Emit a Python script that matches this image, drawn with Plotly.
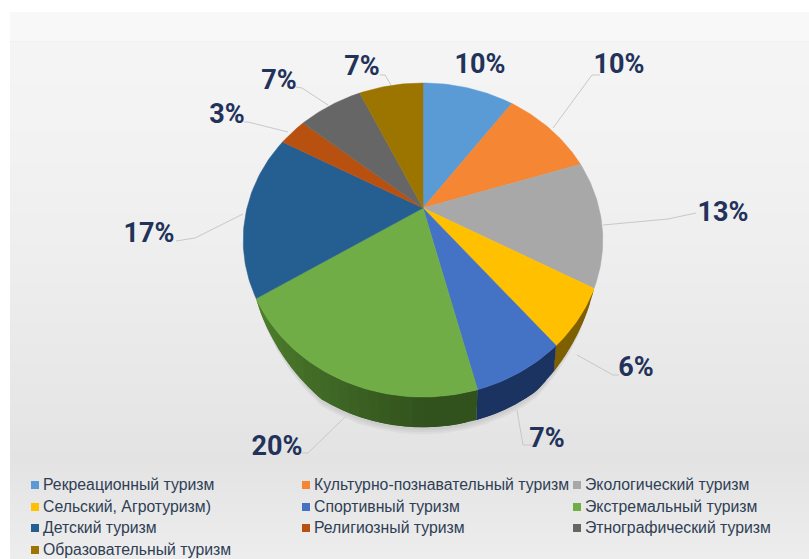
import math
import plotly.graph_objects as go

categories = ["Рекреационный туризм", "Культурно-познавательный туризм", "Экологический туризм",
              "Сельский, Агротуризм)", "Спортивный туризм", "Экстремальный туризм",
              "Детский туризм", "Религиозный туризм", "Этнографический туризм", "Образовательный туризм"]
values = [10, 10, 13, 6, 7, 20, 17, 3, 7, 7]
labels = ["10%", "10%", "13%", "6%", "7%", "20%", "17%", "3%", "7%", "7%"]
colors = ["#5B9BD5", "#F58634", "#A8A8A8", "#FFC000", "#4472C4", "#70AD47", "#255E91", "#B8500F", "#666666", "#9C7400"]
side_colors = [None, None, None, "#7F6000", "#1B3360", "#3A5F22", None, None, None, None]

label_xy = [(480, 66), (619, 66), (723, 214), (636, 369), (547, 440), (277, 448), (149, 235), (227, 116), (279, 82), (362, 68)]
leaders = [None,
           [(553, 128), (592, 75), (600, 75)],
           [(603, 225), (668, 219), (696, 213)],
           [(577, 355), (613, 375), (619, 375)],
           [(517, 410), (523, 445), (532, 445)],
           [(345, 417), (308, 453), (302, 453)],
           [(243, 214), (195, 238), (176, 241)],
           [(288, 132), (248, 122), (244, 122)],
           [(328, 105), (302, 88), (296, 87)],
           [(391, 85), (385, 75), (380, 75)]]

CX, CY, A, B, K = 423, 208, 176, 150.5, 0.204
F, DROP = 0.98, 34


def top(theta):
    u, v = math.sin(theta), math.cos(theta)
    s = 1 / (1 + K * v)
    return CX + A * u * s, CY - B * v * s


def bottom(theta):
    u, v = math.sin(theta), math.cos(theta)
    s = 1 / (1 + K * v)
    return CX + F * A * u * s, CY - (F * B * v * s - DROP)


total = sum(values)
edges = [0]
for val in values:
    edges.append(edges[-1] + val / total * 2 * math.pi)

WALL0, WALL1 = edges[3], edges[6]


def wall(theta, extra=0.0):
    """Lower rim of the wall; it tapers to nothing at the two ends."""
    t = min(1.0, (theta - WALL0) / 0.5, (WALL1 - theta) / 0.5)
    t = max(0.0, t) ** 0.7
    tx, ty = top(theta)
    bx, by = bottom(theta)
    return tx + t * (bx - tx), ty + t * (by - ty) + t * extra


def shade(hex_color, k):
    r, g, b = [int(hex_color[i:i + 2], 16) for i in (1, 3, 5)]
    return f"rgb({min(255, round(r * k))},{min(255, round(g * k))},{min(255, round(b * k))})"


fig = go.Figure()

# panel background
shapes = [dict(type="rect", x0=10, x1=809, y0=12, y1=42, fillcolor="#F8F8F8", line_width=0, layer="below")]
for i in range(52):
    y0 = 43 + i * 10
    if y0 < 455:
        g = round(244 - 17 * ((y0 - 43) / 412) ** 1.5)
    else:
        g = round(227 + 11 * (y0 - 455) / 104)
    shapes.append(dict(type="rect", x0=10, x1=809, y0=y0, y1=y0 + 10,
                       fillcolor=f"rgb({g},{g},{g})", line_width=0, layer="below"))
shapes.append(dict(type="line", x0=10, x1=809, y0=42, y1=42, line=dict(color="#E9E9E9", width=1), layer="below"))

# soft shadow under the wall
for extra in (7, 5, 3):
    n = 80
    rim = [wall(WALL0 + (WALL1 - WALL0) * j / n, extra) for j in range(n + 1)]
    fig.add_trace(go.Scatter(x=[q[0] for q in rim], y=[q[1] for q in rim], mode="lines", fill="toself",
                             fillcolor="rgba(0,0,0,0.035)", line_width=0, showlegend=False, hoverinfo="skip"))

# side wall: overlapping strips so no seams show
for i, name in enumerate(categories):
    if side_colors[i] is None:
        continue
    a0, a1 = edges[i], edges[i + 1]
    n = max(4, int((a1 - a0) / 0.05))
    for j in range(n):
        p0 = a0 + (a1 - a0) * j / n
        p1 = min(a1, p0 + (a1 - a0) / n * 2)
        mid = (p0 + p1) / 2
        k = 0.85 + 0.5 * max(0.0, (mid - math.pi) / (WALL1 - math.pi)) if i == 5 else 1.0
        m = 6
        arc = [p0 + (p1 - p0) * q / m for q in range(m + 1)]
        pts = [top(a) for a in arc] + [wall(a) for a in reversed(arc)]
        pts.append(pts[0])
        fig.add_trace(go.Scatter(x=[q[0] for q in pts], y=[q[1] for q in pts], mode="lines", fill="toself",
                                 fillcolor=shade(side_colors[i], k), line_width=0,
                                 showlegend=False, hoverinfo="skip"))

# top face
for i, name in enumerate(categories):
    a0, a1 = edges[i], edges[i + 1]
    n = max(8, int((a1 - a0) / 0.02))
    pts = [(CX, CY)] + [top(a0 + (a1 - a0) * j / n) for j in range(n + 1)] + [(CX, CY)]
    fig.add_trace(go.Scatter(x=[q[0] for q in pts], y=[q[1] for q in pts], mode="lines", fill="toself",
                             fillcolor=colors[i], line=dict(color=colors[i], width=0.5),
                             name=name, text=f"{name}: {labels[i]}", hoverinfo="text", showlegend=False))

for lead in leaders:
    if lead:
        fig.add_trace(go.Scatter(x=[q[0] for q in lead], y=[q[1] for q in lead], mode="lines",
                                 line=dict(color="#C8C8C8", width=1), showlegend=False, hoverinfo="skip"))

# data labels
fig.add_trace(go.Scatter(x=[p[0] for p in label_xy], y=[p[1] for p in label_xy], mode="text", text=labels,
                         textposition="middle center",
                         textfont=dict(family="Roboto, Liberation Sans", size=27, color="#22325A", weight="bold"),
                         showlegend=False, hoverinfo="skip"))

# legend grid
col_x = [35, 306, 577]
row_y = [485, 507, 528, 550]
lx = [col_x[i % 3] for i in range(len(categories))]
ly = [row_y[i // 3] for i in range(len(categories))]
fig.add_trace(go.Scatter(x=lx, y=ly, mode="markers", marker=dict(symbol="square", size=8, color=colors),
                         showlegend=False, hoverinfo="skip"))
fig.add_trace(go.Scatter(x=[v + 8 for v in lx], y=[v + 1 for v in ly], mode="text", text=categories,
                         textposition="middle right",
                         textfont=dict(family="Liberation Sans", size=15.8, color="#2F3E55"),
                         showlegend=False, hoverinfo="skip"))

fig.update_layout(width=809, height=559, margin=dict(l=0, r=0, t=0, b=0), paper_bgcolor="white",
                  plot_bgcolor="rgba(0,0,0,0)", shapes=shapes, showlegend=False,
                  xaxis=dict(range=[0, 809], visible=False, fixedrange=True),
                  yaxis=dict(range=[559, 0], visible=False, fixedrange=True))
fig.write_html("out.html", post_script="document.body.style.margin='0';document.documentElement.style.overflow='hidden';",
               config=dict(displayModeBar=False))
